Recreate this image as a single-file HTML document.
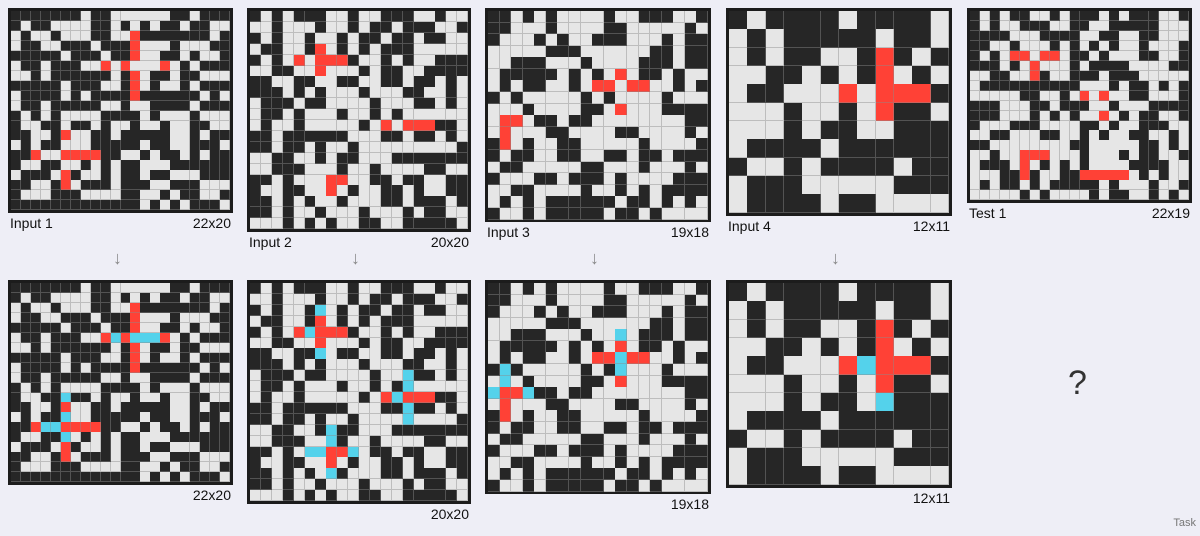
<!DOCTYPE html>
<html><head><meta charset="utf-8">
<style>
body{margin:0;width:1200px;height:536px;background:#eeeef6;position:relative;overflow:hidden;font-family:"Liberation Sans",sans-serif;}
.g{position:absolute;border:3px solid #1c1c1c;box-sizing:border-box;background:#1c1c1c;}
.c{position:absolute;box-sizing:border-box;border-right:1px solid rgba(140,140,140,.45);border-bottom:1px solid rgba(140,140,140,.45);}
.lab{position:absolute;font-size:14px;color:#111;height:16px;line-height:16px;}
.arr{position:absolute;font-size:18px;color:#888;}
</style></head><body>
<div id="root"></div>
<div class="arr" style="left:113px;top:248px">↓</div>
<div class="arr" style="left:351px;top:248px">↓</div>
<div class="arr" style="left:590px;top:248px">↓</div>
<div class="arr" style="left:831px;top:248px">↓</div>
<div style="position:absolute;left:1068px;top:364px;font-size:34px;color:#333">?</div>
<div style="position:absolute;right:4px;top:517px;font-size:11px;color:#777">Task</div>
<script>
const in1=["1111111011000000110111","1011000011010101101100","01001000110012111111101","0110011101112000100011","1111101110112001101001","0110111002020002010111","0010111111012011011000","1111101110012010010111","0111101011112111111010","0110111110010011110111","1010100001111010001000","1001101101001001001100","1100120011011111001011","0101100011111011001110","1120022221100101101011","1001100101011000111111","0111021001011011000111","1100120111011100111000","1000111000011001011001","1111111111111010101110"];
in1[2]="0100100011002111111101";
const in2=["10101110010011100100","00100010010110111001","10100100101101101100","01100120101011100000","10102022210010100111","00110020001011001111","11001100110011011010","11101010001000110010","01110110000100011010","01101000100101000000","01001000001020222110","11011111100011011010","11011010010000000001","00110010110001111111","00111000100100001100","11010002200110110011","10011002010011010011","11010100100011011101","11010010001000101100","00010101001100111110"];
const in3=["1101010000100111001","1100010000110000010","1000101001110001011","0000011100000011011","0011100010000111011","0111110101020110100","0101100102202200101","1010000010100001000","0001000011020001111","0220110110000000011","0200011000011000010","1201001100000100001","1011001100110110111","0110000011000100010","1000110111010000111","0011000010010101111","0101011111101101010","1001011111011010000"];
const in4=["101111011110","010111110110","010110012101","001101012010","011000202221","000100102110","000101100111","011110111111","100101111011","011100000111","011110110000"];
const test1=["1010110010111010111001","1010011100110011111000","1111000111100110011000","1100100010101010010001","1010220220110100011001","1110102000101111000011","0011002100111011100000","0111111111100010110101","0000011001020200110001","1110001101110010001111","1110001010100201011001","1000111000011010011100","0011000110010100110010","1100000000110000011010","0010022200010001011001","0111020101010000111100","0001121001122222010100","0101101011111010001001","0000010100001011001010"];
const cyan1=[[12,5],[10,5],[13,5],[14,5],[5,11],[5,13],[3,14],[4,14],[5,15]];
const cyan2=[[6,2],[5,4],[6,6],[14,8],[14,9],[13,10],[14,11],[14,12],[7,13],[7,14],[5,15],[6,15],[9,15],[7,17]];
const cyan3=[[11,4],[11,6],[11,7],[1,7],[1,8],[0,9],[3,9]];
const cyan4=[[7,4],[8,6]];
const colors={"0":"#e6e6e6","1":"#262626","2":"#ff4136","3":"#54d2eb"};
const root=document.getElementById('root');
function grid(rows,cy,x,y,w,name,label,size){
  const nc=rows[0].length,nr=rows.length,cs=(w-6)/nc,h=nr*cs+6;
  const g=document.createElement('div');g.className='g';
  
  
  g.style.cssText=`left:${x}px;top:${y}px;width:${w}px;height:${h}px`;
  const m=rows.map(r=>r.slice(0,nc).split(''));
  cy.forEach(([c,r])=>{m[r][c]='3';});
  m.forEach((row,r)=>row.forEach((v,c)=>{
    const d=document.createElement('div');d.className='c';
    
    
    d.style.cssText=`left:${c*cs}px;top:${r*cs}px;width:${cs+0.3}px;height:${cs+0.3}px;background:${colors[v]||colors['0']}`;
    g.appendChild(d);}));
  root.appendChild(g);
  if(label){const l=document.createElement('div');l.className='lab';
    
    
    l.style.cssText=`left:${x+2}px;top:${y+h+2}px`;l.textContent=label;root.appendChild(l);}
  const s=document.createElement('div');s.className='lab';
  
  
  s.style.cssText=`left:${x}px;width:${w-2}px;text-align:right;top:${y+h+2}px`;s.textContent=size;root.appendChild(s);
}
grid(in1,[],8,8,225,'input-1-grid','Input 1','22x20');
grid(in2,[],247,8,224,'input-2-grid','Input 2','20x20');
grid(in3,[],485,8,226,'input-3-grid','Input 3','19x18');
grid(in4,[],726,8,226,'input-4-grid','Input 4','12x11');
grid(test1,[],967,8,225,'test-1-grid','Test 1','22x19');
grid(in1,cyan1,8,280,225,'output-1-grid','','22x20');
grid(in2,cyan2,247,280,224,'output-2-grid','','20x20');
grid(in3,cyan3,485,280,226,'output-3-grid','','19x18');
grid(in4,cyan4,726,280,226,'output-4-grid','','12x11');
</script>
</body></html>
